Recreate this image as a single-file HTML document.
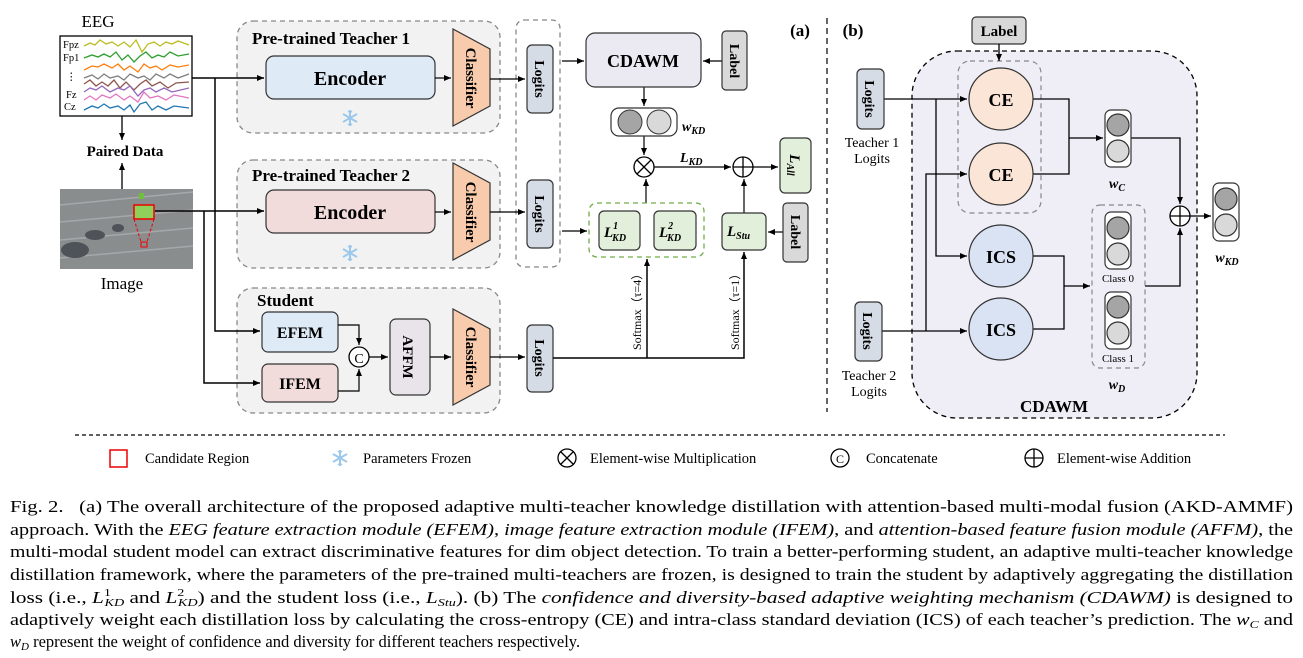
<!DOCTYPE html>
<html><head><meta charset="utf-8"><style>
body{margin:0;background:#fff}
svg{display:block;font-family:"Liberation Serif",serif}
.b{font-weight:bold}
</style></head><body>
<svg width="1303" height="658" viewBox="0 0 1303 658" xmlns="http://www.w3.org/2000/svg">
<defs>
<marker id="a" markerWidth="8" markerHeight="8" refX="7" refY="4" orient="auto" markerUnits="userSpaceOnUse"><path d="M0,1 L7,4 L0,7z" fill="#000"/></marker>
<g id="sf" stroke="#9cc8ec" stroke-width="2" fill="none"><path d="M0,-8V8M-7,-4L7,4M-7,4L7,-4"/><path d="M-2,-7L0,-5L2,-7M-2,7L0,5L2,7" stroke-width="1.3"/></g>
</defs>
<text x="98" y="27" font-size="17" text-anchor="middle">EEG</text>
<rect x="60" y="36" width="132" height="80" fill="#fff" stroke="#000" stroke-width="1.3"/>
<g font-size="10.5"><text x="63" y="48">Fpz</text><text x="63" y="61">Fp1</text><text x="66" y="80">⋮</text><text x="66" y="98">Fz</text><text x="64" y="110">Cz</text></g>
<g fill="none" stroke-width="1.3">
<polyline stroke="#bcbd22" points="84,46 90,43 95,45 100,40 106,44 112,42 118,46 124,42 130,47 136,40 142,52 148,44 154,42 160,46 166,42 172,44 178,41 189,45"/>
<polyline stroke="#2ca02c" points="84,58 92,55 98,57 104,54 110,57 116,52 122,60 128,55 134,62 140,56 146,52 152,58 158,55 164,57 170,52 178,56 189,54"/>
<polyline stroke="#ff7f0e" points="84,70 92,66 98,67 104,64 112,68 118,64 124,70 130,66 138,72 144,64 150,68 156,66 162,70 170,65 178,67 189,65"/>
<polyline stroke="#7f7f7f" points="84,78 92,75 98,79 104,74 110,78 118,76 124,80 130,74 138,78 144,76 150,80 156,74 164,78 170,74 178,78 189,74"/>
<polyline stroke="#8c564b" points="84,84 90,80 96,86 102,82 108,86 114,80 120,88 126,82 134,90 140,84 146,80 152,86 160,82 168,88 176,83 189,82"/>
<polyline stroke="#9467bd" points="84,92 90,88 96,90 102,86 110,92 118,88 124,90 130,86 138,96 144,90 150,88 156,92 164,88 172,92 189,88"/>
<polyline stroke="#e377c2" points="84,100 90,96 96,100 102,95 110,98 116,94 124,100 130,96 138,102 144,92 150,98 158,96 166,100 174,95 189,98"/>
<polyline stroke="#1f77b4" points="84,110 92,106 98,108 104,104 110,108 118,106 124,110 130,105 134,112 140,104 146,102 152,110 158,106 166,110 174,106 189,108"/>
</g>
<line x1="122" y1="116" x2="122" y2="140" stroke="#000" stroke-width="1.3" marker-end="url(#a)"/>
<text x="125" y="156" font-size="15" class="b" text-anchor="middle">Paired Data</text>
<line x1="122" y1="189" x2="122" y2="163" stroke="#000" stroke-width="1.3" marker-end="url(#a)"/>
<rect x="60" y="189" width="133" height="80" fill="#8a8d8e"/>
<g stroke="#a5a8aa" stroke-width="1.5"><line x1="60" y1="205" x2="193" y2="192"/><line x1="60" y1="222" x2="193" y2="210"/><line x1="60" y1="240" x2="193" y2="228"/><line x1="60" y1="258" x2="193" y2="246"/></g>
<g fill="#4d5358"><ellipse cx="75" cy="250" rx="14" ry="8"/><ellipse cx="95" cy="235" rx="10" ry="5"/><ellipse cx="118" cy="228" rx="6" ry="4"/></g>
<rect x="139" y="193" width="5" height="6" fill="#6fbf3a"/>
<rect x="134" y="205" width="20" height="14" fill="#8fd05a" stroke="#e00" stroke-width="1.5"/>
<path d="M134,219 L141,242 M154,219 L147,242" stroke="#e00" stroke-dasharray="3,2"/>
<rect x="141" y="242" width="6" height="5" fill="none" stroke="#e00"/>
<text x="122" y="289" font-size="17" text-anchor="middle">Image</text>
<g fill="#f2f2f2" stroke="#888" stroke-width="1.3" stroke-dasharray="5,4">
<rect x="237" y="21" width="263" height="112" rx="16"/>
<rect x="237" y="160" width="263" height="108" rx="16"/>
<rect x="237" y="288" width="263" height="125" rx="16"/>
<rect x="516" y="20" width="44" height="247" rx="8" fill="#fff"/>
</g>
<g font-size="17" class="b"><text x="252" y="44">Pre-trained Teacher 1</text><text x="252" y="181">Pre-trained Teacher 2</text><text x="257" y="306">Student</text></g>
<rect x="266" y="56" width="169" height="43" rx="8" fill="#deeaf6" stroke="#333" stroke-width="1.2"/>
<text x="350" y="85" font-size="20" class="b" text-anchor="middle">Encoder</text>
<rect x="266" y="190" width="169" height="43" rx="8" fill="#f2dcdb" stroke="#333" stroke-width="1.2"/>
<text x="350" y="219" font-size="20" class="b" text-anchor="middle">Encoder</text>
<use href="#sf" x="350" y="118"/><use href="#sf" x="350" y="253"/>
<g fill="#f8cbad" stroke="#333" stroke-width="1.2">
<path d="M453,29 L490,49 L490,106 L453,126z"/><path d="M453,163 L490,183 L490,240 L453,260z"/><path d="M453,309 L490,329 L490,385 L453,405z"/>
</g>
<g font-size="15" class="b" text-anchor="middle">
<text transform="translate(466,78) rotate(90)">Classifier</text>
<text transform="translate(466,212) rotate(90)">Classifier</text>
<text transform="translate(466,357) rotate(90)">Classifier</text>
</g>
<rect x="262" y="312" width="76" height="40" rx="6" fill="#deeaf6" stroke="#333" stroke-width="1.2"/>
<text x="300" y="338" font-size="16" class="b" text-anchor="middle">EFEM</text>
<rect x="262" y="364" width="76" height="38" rx="6" fill="#f2dcdb" stroke="#333" stroke-width="1.2"/>
<text x="300" y="389" font-size="16" class="b" text-anchor="middle">IFEM</text>
<circle cx="359" cy="357" r="10" fill="#fff" stroke="#000" stroke-width="1.3"/>
<text x="359" y="363" font-size="14" text-anchor="middle">C</text>
<rect x="390" y="319" width="40" height="76" rx="6" fill="#e8e4ea" stroke="#333" stroke-width="1.2"/>
<text transform="translate(403,357) rotate(90)" font-size="15" class="b" text-anchor="middle">AFFM</text>
<g fill="#d6dce5" stroke="#333" stroke-width="1.2"><rect x="527" y="45" width="26" height="68" rx="5"/><rect x="527" y="180" width="26" height="68" rx="5"/><rect x="527" y="325" width="26" height="67" rx="5"/></g>
<g font-size="14" class="b" text-anchor="middle"><text transform="translate(535,79) rotate(90)">Logits</text><text transform="translate(535,214) rotate(90)">Logits</text><text transform="translate(535,358) rotate(90)">Logits</text></g>
<g stroke="#000" stroke-width="1.5" fill="none">
<path d="M192,78 H264" marker-end="url(#a)"/><path d="M215,78 V331 H260" marker-end="url(#a)"/>
<path d="M155,211 H264" marker-end="url(#a)"/><path d="M204,211 V383 H260" marker-end="url(#a)"/>
<path d="M338,325 H359 V345" stroke-width="1.2" marker-end="url(#a)"/><path d="M338,391 H359 V369" stroke-width="1.2" marker-end="url(#a)"/>
<path d="M369,357 H388" stroke-width="1.2" marker-end="url(#a)"/><path d="M430,357 H451" stroke-width="1.2" marker-end="url(#a)"/>
<path d="M435,78 H451" stroke-width="1.2" marker-end="url(#a)"/><path d="M435,212 H451" stroke-width="1.2" marker-end="url(#a)"/>
<path d="M490,79 H525" stroke-width="1.2" marker-end="url(#a)"/><path d="M490,212 H525" stroke-width="1.2" marker-end="url(#a)"/><path d="M490,357 H525" stroke-width="1.2" marker-end="url(#a)"/>
<path d="M553,358 H744 V252" stroke-width="1.5" marker-end="url(#a)"/><path d="M647,358 V259" stroke-width="1.5" marker-end="url(#a)"/>
<path d="M562,61 H584" stroke-width="1.2" marker-end="url(#a)"/><path d="M562,231 H587" stroke-width="1.2" marker-end="url(#a)"/>
<path d="M722,61 H703" stroke-width="1.2" marker-end="url(#a)"/>
<path d="M644,87 V106" stroke-width="1.2" marker-end="url(#a)"/><path d="M644,136 V155" stroke-width="1.2" marker-end="url(#a)"/>
<path d="M646,203 V179" stroke-width="1.2" marker-end="url(#a)"/>
<path d="M654,167 H731" stroke-width="1.2" marker-end="url(#a)"/><path d="M753,167 H778" stroke-width="1.2" marker-end="url(#a)"/>
<path d="M744,213 V179" stroke-width="1.2" marker-end="url(#a)"/><path d="M783,232 H768" stroke-width="1.2" marker-end="url(#a)"/>
</g>
<rect x="586" y="33" width="115" height="54" rx="9" fill="#ebe9f1" stroke="#333" stroke-width="1.2"/>
<text x="643" y="67" font-size="18" class="b" text-anchor="middle">CDAWM</text>
<rect x="722" y="31" width="25" height="59" rx="4" fill="#d9d9d9" stroke="#333" stroke-width="1.2"/>
<text transform="translate(730,61) rotate(90)" font-size="14" class="b" text-anchor="middle">Label</text>
<rect x="611" y="108" width="66" height="28" rx="8" fill="#fff" stroke="#333" stroke-width="1.2"/>
<circle cx="630" cy="122" r="12" fill="#a5a5a5" stroke="#333"/><circle cx="659" cy="122" r="12" fill="#d9d9d9" stroke="#333"/>
<text x="682" y="131" font-size="14" class="b" font-style="italic">w<tspan font-size="10" dy="3">KD</tspan></text>
<circle cx="644" cy="167" r="10" fill="#fff" stroke="#000" stroke-width="1.3"/><path d="M637,160 L651,174 M651,160 L637,174" stroke="#000" stroke-width="1.3"/>
<text x="680" y="162" font-size="14" class="b" font-style="italic">L<tspan font-size="10" dy="3">KD</tspan></text>
<circle cx="743" cy="167" r="10" fill="#fff" stroke="#000" stroke-width="1.3"/><path d="M733,167 H753 M743,157 V177" stroke="#000" stroke-width="1.3"/>
<rect x="780" y="138" width="31" height="55" rx="5" fill="#e2efda" stroke="#333" stroke-width="1.2"/>
<text transform="translate(790,165) rotate(90)" font-size="15" class="b" font-style="italic" text-anchor="middle">L<tspan font-size="10" dy="3">All</tspan></text>
<rect x="589" y="203" width="115" height="54" rx="8" fill="#fff" stroke="#70ad47" stroke-width="1.3" stroke-dasharray="5,4"/>
<rect x="599" y="211" width="41" height="39" rx="5" fill="#e2efda" stroke="#333" stroke-width="1.2"/>
<rect x="654" y="211" width="42" height="39" rx="5" fill="#e2efda" stroke="#333" stroke-width="1.2"/>
<rect x="722" y="213" width="44" height="37" rx="5" fill="#e2efda" stroke="#333" stroke-width="1.2"/>
<g font-size="15" class="b" font-style="italic"><text x="604" y="237">L<tspan font-size="10" dy="-8">1</tspan><tspan font-size="10" dx="-6" dy="12">KD</tspan></text>
<text x="659" y="237">L<tspan font-size="10" dy="-8">2</tspan><tspan font-size="10" dx="-6" dy="12">KD</tspan></text>
<text x="727" y="236">L<tspan font-size="10" dy="3">Stu</tspan></text></g>
<rect x="783" y="203" width="25" height="59" rx="4" fill="#d9d9d9" stroke="#333" stroke-width="1.2"/>
<text transform="translate(791,232) rotate(90)" font-size="14" class="b" text-anchor="middle">Label</text>
<g font-size="12"><text transform="translate(641,350) rotate(-90)">Softmax（τ=4）</text><text transform="translate(739,350) rotate(-90)">Softmax（τ=1）</text></g>
<text x="800" y="36" font-size="17" class="b" text-anchor="middle">(a)</text>
<line x1="827" y1="18" x2="827" y2="412" stroke="#000" stroke-dasharray="6,4" stroke-width="1.2"/>
<text x="853" y="36" font-size="17" class="b" text-anchor="middle">(b)</text>
<rect x="912" y="51" width="285" height="367" rx="45" fill="#efedf5" stroke="#000" stroke-width="1.3" stroke-dasharray="5,4"/>
<rect x="958" y="61" width="83" height="152" rx="12" fill="none" stroke="#888" stroke-width="1.2" stroke-dasharray="5,4"/>
<rect x="972" y="17" width="54" height="27" rx="4" fill="#d9d9d9" stroke="#333" stroke-width="1.2"/>
<text x="999" y="36" font-size="15" class="b" text-anchor="middle">Label</text>
<g stroke="#000" stroke-width="1.3" fill="none">
<path d="M999,44 V61" marker-end="url(#a)"/>
<path d="M884,99 H967" marker-end="url(#a)"/><path d="M936,99 V256 H967" marker-end="url(#a)"/>
<path d="M882,331 H967" marker-end="url(#a)"/><path d="M926,331 V174 H967" marker-end="url(#a)"/>
<path d="M1033,99 H1069 V174 H1033"/><path d="M1069,138 H1103" marker-end="url(#a)"/>
<path d="M1033,256 H1064 V329 H1033"/><path d="M1064,286 H1090" marker-end="url(#a)"/>
<path d="M1131,138 H1180 V204" marker-end="url(#a)"/><path d="M1145,286 H1180 V228" marker-end="url(#a)"/>
<path d="M1190,216 H1211" marker-end="url(#a)"/>
</g>
<g stroke="#333" stroke-width="1.2"><ellipse cx="1001" cy="99" rx="32" ry="31" fill="#fbe5d6"/><ellipse cx="1001" cy="174" rx="32" ry="31" fill="#fbe5d6"/><ellipse cx="1001" cy="256" rx="32" ry="31" fill="#dae3f3"/><ellipse cx="1001" cy="329" rx="32" ry="31" fill="#dae3f3"/></g>
<g font-size="18" class="b" text-anchor="middle"><text x="1001" y="106">CE</text><text x="1001" y="181">CE</text><text x="1001" y="263">ICS</text><text x="1001" y="336">ICS</text></g>
<g fill="#d6dce5" stroke="#333" stroke-width="1.2"><rect x="857" y="69" width="27" height="60" rx="5"/><rect x="855" y="302" width="27" height="59" rx="5"/></g>
<g font-size="14" class="b" text-anchor="middle"><text transform="translate(865,99) rotate(90)">Logits</text><text transform="translate(863,331) rotate(90)">Logits</text></g>
<g font-size="14" text-anchor="middle"><text x="872" y="147">Teacher 1</text><text x="872" y="163">Logits</text><text x="869" y="380">Teacher 2</text><text x="869" y="396">Logits</text></g>
<rect x="1092" y="205" width="53" height="163" rx="8" fill="none" stroke="#888" stroke-width="1.2" stroke-dasharray="5,4"/>
<g stroke="#333" stroke-width="1.2">
<rect x="1105" y="110" width="26" height="57" rx="6" fill="#fff"/><circle cx="1118" cy="125" r="11" fill="#a5a5a5"/><circle cx="1118" cy="151" r="11" fill="#d9d9d9"/>
<rect x="1105" y="212" width="26" height="57" rx="6" fill="#fff"/><circle cx="1118" cy="228" r="11" fill="#a5a5a5"/><circle cx="1118" cy="254" r="11" fill="#d9d9d9"/>
<rect x="1105" y="292" width="26" height="57" rx="6" fill="#fff"/><circle cx="1118" cy="307" r="11" fill="#a5a5a5"/><circle cx="1118" cy="333" r="11" fill="#d9d9d9"/>
<rect x="1213" y="183" width="26" height="58" rx="6" fill="#fff"/><circle cx="1226" cy="199" r="11" fill="#a5a5a5"/><circle cx="1226" cy="225" r="11" fill="#d9d9d9"/>
</g>
<circle cx="1180" cy="216" r="10" fill="#fff" stroke="#000" stroke-width="1.3"/><path d="M1170,216 H1190 M1180,206 V226" stroke="#000" stroke-width="1.3"/>
<g font-size="11" text-anchor="middle"><text x="1118" y="282">Class 0</text><text x="1118" y="362">Class 1</text></g>
<g font-size="14" class="b" font-style="italic" text-anchor="middle"><text x="1117" y="188">w<tspan font-size="10" dy="3">C</tspan></text><text x="1117" y="389">w<tspan font-size="10" dy="3">D</tspan></text><text x="1227" y="262">w<tspan font-size="10" dy="3">KD</tspan></text></g>
<text x="1054" y="412" font-size="17" class="b" text-anchor="middle">CDAWM</text>
<line x1="75" y1="435" x2="1225" y2="435" stroke="#000" stroke-dasharray="4,3" stroke-width="1.2"/>
<g font-size="14.5">
<rect x="110" y="450" width="17" height="17" fill="none" stroke="#e00" stroke-width="1.5"/><text x="145" y="463">Candidate Region</text>
<use href="#sf" x="340" y="458"/><text x="363" y="463">Parameters Frozen</text>
<circle cx="567" cy="458" r="9" fill="none" stroke="#000" stroke-width="1.3"/><path d="M561,452 L573,464 M573,452 L561,464" stroke="#000" stroke-width="1.3"/><text x="590" y="463">Element-wise Multiplication</text>
<circle cx="840" cy="458" r="9" fill="none" stroke="#000" stroke-width="1.3"/><text x="840" y="463" font-size="12" text-anchor="middle">C</text><text x="866" y="463">Concatenate</text>
<circle cx="1034" cy="458" r="9" fill="none" stroke="#000" stroke-width="1.3"/><path d="M1025,458 H1043 M1034,449 V467" stroke="#000" stroke-width="1.3"/><text x="1057" y="463">Element-wise Addition</text>
</g>
<g font-size="16.5">
<text x="10" y="512" textLength="1283" lengthAdjust="spacingAndGlyphs">Fig. 2. &#160;&#160;(a) The overall architecture of the proposed adaptive multi-teacher knowledge distillation with attention-based multi-modal fusion (AKD-AMMF)</text>
<text x="10" y="535" textLength="1283" lengthAdjust="spacingAndGlyphs">approach. With the <tspan font-style="italic">EEG feature extraction module (EFEM)</tspan>, <tspan font-style="italic">image feature extraction module (IFEM)</tspan>, and <tspan font-style="italic">attention-based feature fusion module (AFFM)</tspan>, the</text>
<text x="10" y="557" textLength="1283" lengthAdjust="spacingAndGlyphs">multi-modal student model can extract discriminative features for dim object detection. To train a better-performing student, an adaptive multi-teacher knowledge</text>
<text x="10" y="580" textLength="1283" lengthAdjust="spacingAndGlyphs">distillation framework, where the parameters of the pre-trained multi-teachers are frozen, is designed to train the student by adaptively aggregating the distillation</text>
<text x="10" y="603" textLength="1283" lengthAdjust="spacingAndGlyphs">loss (i.e., <tspan font-style="italic">L</tspan><tspan font-size="11" dy="-7">1</tspan><tspan font-size="11" font-style="italic" dx="-5" dy="10">KD</tspan><tspan dy="-3"> and </tspan><tspan font-style="italic">L</tspan><tspan font-size="11" dy="-7">2</tspan><tspan font-size="11" font-style="italic" dx="-5" dy="10">KD</tspan><tspan dy="-3">) and the student loss (i.e., </tspan><tspan font-style="italic">L</tspan><tspan font-size="11" font-style="italic" dy="3">Stu</tspan><tspan dy="-3">). (b) The </tspan><tspan font-style="italic">confidence and diversity-based adaptive weighting mechanism (CDAWM)</tspan> is designed to</text>
<text x="10" y="625" textLength="1283" lengthAdjust="spacingAndGlyphs">adaptively weight each distillation loss by calculating the cross-entropy (CE) and intra-class standard deviation (ICS) of each teacher’s prediction. The <tspan font-style="italic">w</tspan><tspan font-size="11" font-style="italic" dy="3">C</tspan><tspan dy="-3"> and</tspan></text>
<text x="10" y="647"><tspan font-style="italic">w</tspan><tspan font-size="11" font-style="italic" dy="3">D</tspan><tspan dy="-3"> represent the weight of confidence and diversity for different teachers respectively.</tspan></text>
</g>
</svg>
</body></html>
